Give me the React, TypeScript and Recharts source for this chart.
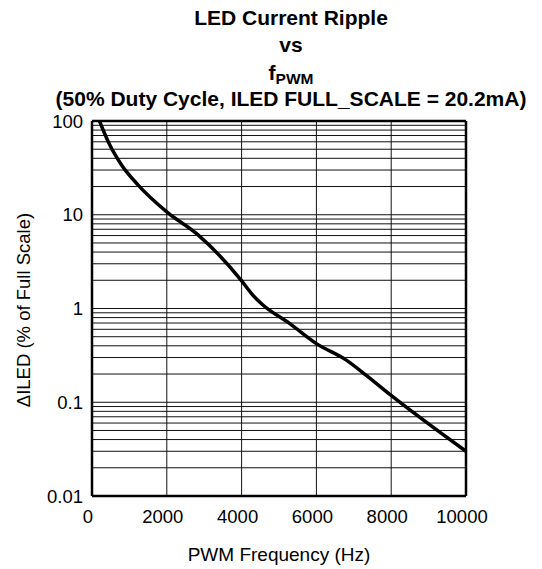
import React from 'react';
import { LineChart, Line, XAxis, YAxis, CartesianGrid, ReferenceLine } from 'recharts';

const freqHz = [200, 480, 790, 1235, 1990, 2835, 3990, 4300, 4570, 5280, 5990, 6790, 7325, 7990, 10000];
const ripplePct = [100, 55, 34, 20.7, 10.8, 6.1, 2.0, 1.39, 1.09, 0.695, 0.425, 0.283, 0.195, 0.119, 0.030];
const xTicks = [0, 2000, 4000, 6000, 8000, 10000];
const yTicks = [
  0.01, 0.02, 0.03, 0.04, 0.05, 0.06, 0.07, 0.08, 0.09,
  0.1, 0.2, 0.3, 0.4, 0.5, 0.6, 0.7, 0.8, 0.9,
  1, 2, 3, 4, 5, 6, 7, 8, 9,
  10, 20, 30, 40, 50, 60, 70, 80, 90,
  100,
];
const yLabelTicks = ['0.01', '0.1', '1', '10', '100'];

const data = freqHz.map((f, i) => ({ f, r: ripplePct[i] }));

const font = '"Liberation Sans", Arial, sans-serif';

export default function App() {
  return (
    <div style={{ position: 'absolute', left: 0, top: 0, width: 542, height: 569, background: '#fff', fontFamily: font }}>
      <LineChart width={542} height={569} data={data} margin={{ top: 121, right: 76, bottom: 43, left: 40 }}>
        <CartesianGrid stroke="#111" strokeWidth={1} horizontalValues={yTicks} verticalValues={xTicks} />
        <XAxis
          dataKey="f"
          type="number"
          domain={[0, 10000]}
          ticks={xTicks}
          height={30}
          tickLine={false}
          axisLine={{ stroke: '#000', strokeWidth: 2.5 }}
          tick={{ fill: '#000', fontSize: 18.5, fontFamily: font, dx: -4 }}
          tickMargin={7.5}
        />
        <YAxis
          dataKey="r"
          type="number"
          scale="log"
          domain={[0.01, 100]}
          allowDataOverflow
          ticks={yTicks}
          interval={0}
          width={52}
          tickLine={false}
          tickMargin={3}
          axisLine={{ stroke: '#000', strokeWidth: 2.5 }}
          tickFormatter={(v: number) => {
            const s = String(v);
            return yLabelTicks.includes(s) ? s : '';
          }}
          tick={{ fill: '#000', fontSize: 18.5, fontFamily: font }}
        />
        <ReferenceLine x={10000} stroke="#000" strokeWidth={2.5} />
        <ReferenceLine y={100} stroke="#000" strokeWidth={2.5} />
        <Line type="monotone" dataKey="r" stroke="#000" strokeWidth={3.5} dot={false} isAnimationActive={false} />
      </LineChart>
      <svg width={542} height={569} style={{ position: 'absolute', left: 0, top: 0, pointerEvents: 'none' }}>
        <g fontFamily={font} fill="#000" fontWeight="bold" fontSize={21} textAnchor="middle">
          <text x={291} y={25}>LED Current Ripple</text>
          <text x={291} y={52}>vs</text>
          <text x={291} y={80}>
            f<tspan fontSize={15.5} dy={3.5}>PWM</tspan>
          </text>
          <text x={291} y={106}>(50% Duty Cycle, ILED FULL_SCALE = 20.2mA)</text>
        </g>
        <text x={279} y={561} fontFamily={font} fontSize={19} textAnchor="middle" fill="#000">PWM Frequency (Hz)</text>
        <text x={30} y={310} fontFamily={font} fontSize={18.5} textAnchor="middle" fill="#000" transform="rotate(-90 30 310)">ΔILED (% of Full Scale)</text>
      </svg>
    </div>
  );
}
